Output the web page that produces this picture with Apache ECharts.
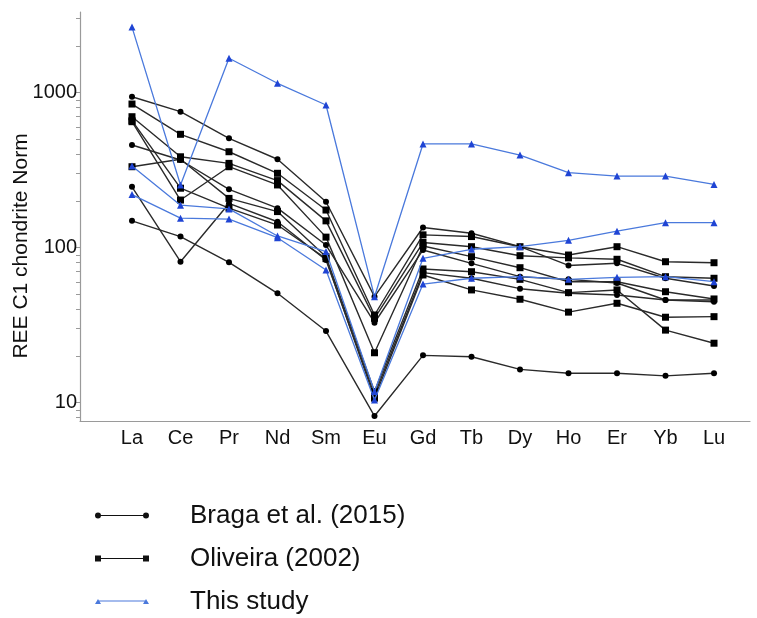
<!DOCTYPE html>
<html>
<head>
<meta charset="utf-8">
<script src="https://cdn.jsdelivr.net/npm/echarts@6/dist/echarts.min.js"></script>
<style>
  html, body { margin: 0; padding: 0; background: #ffffff; }
  #chart { width: 757px; height: 618px; }
</style>
</head>
<body>
<div id="chart"></div>
<script>
// REE elements along the x axis (Tm not analysed)
const elements = ['La', 'Ce', 'Pr', 'Nd', 'Sm', 'Eu', 'Gd', 'Tb', 'Dy', 'Ho', 'Er', 'Yb', 'Lu'];

// Chondrite-normalised patterns, one row per sample
const braga = [
  [942, 754, 508, 372, 198, 48.3, 135, 124, 101.5, 76.8, 79.3, 63.5, 56.6],
  [460, 368, 238, 180, 104, 32.8, 96.7, 79.3, 65, 62.5, 59.2, 46, 44.8],
  [247, 81.2, 193, 147, 83.3, 11.2, 69, 63.5, 54.4, 50.8, 49.5, 46, 46],
  [149, 118, 80.5, 50.8, 29, 8.2, 20.2, 19.8, 16.4, 15.5, 15.5, 14.9, 15.5]
];
const oliveira = [
  [845, 539, 416, 302, 175, 36.8, 121, 118, 101.5, 89.7, 101.5, 81.2, 80],
  [700, 386, 350, 271, 149, 35.0, 108, 101.5, 88.8, 86, 84.2, 65, 63.5],
  [650, 203, 333, 254, 117, 21.0, 102.6, 87.5, 74.3, 60.3, 60.3, 52, 46.7],
  [333, 372, 208, 171, 87.5, 11.8, 72.9, 70, 62.5, 51.3, 53.4, 29.4, 24.2],
  [660, 242, 180, 140, 85, 10.7, 66.7, 53.4, 46.5, 38.4, 43.8, 35.6, 35.9]
];
const thisStudy = [
  [2650, 254, 1667, 1150, 833, 48.3, 467, 467, 396, 305, 290, 290, 256],
  [337, 188, 178, 119, 94.5, 11.8, 85.4, 97.7, 101.5, 111.6, 127.8, 145, 145],
  [220, 155, 153, 116, 71.8, 10.4, 58.3, 63.5, 65, 62.5, 64.4, 65, 60.4]
];

// Axis ticks
const yLabelValues = [10, 100, 1000];
const yTickValues = [8, 9, 10, 20, 30, 40, 50, 60, 70, 80, 90, 100,
  200, 300, 400, 500, 600, 700, 800, 900, 1000, 2000, 3000];

const FONT = 'Liberation Sans, Arial, Helvetica, sans-serif';

const groups = [
  { name: 'Braga et al. (2015)', rows: braga, symbol: 'circle', size: 6,
    line: '#2a2a2a', mark: '#000000', width: 1.4,
    icon: 'path://M3,2.4L51,2.4L51,3.6L3,3.6Z M0,3A3,3,0,1,1,6,3A3,3,0,1,1,0,3Z M48,3A3,3,0,1,1,54,3A3,3,0,1,1,48,3Z' },
  { name: 'Oliveira (2002)', rows: oliveira, symbol: 'rect', size: 7,
    line: '#2a2a2a', mark: '#000000', width: 1.4,
    icon: 'path://M3,2.4L51,2.4L51,3.6L3,3.6Z M0,0L6,0L6,6L0,6Z M48,0L54,0L54,6L48,6Z' },
  { name: 'This study', rows: thisStudy, symbol: 'triangle', size: 7,
    line: '#4a79dc', mark: '#1f44d4', width: 1.3,
    icon: 'path://M3,2.5L51,2.5L51,3.5L3,3.5Z M0,6L3,1L6,6Z M48,6L51,1L54,6Z' }
];

const series = [];
groups.forEach(g => {
  g.rows.forEach(row => {
    series.push({
      type: 'line',
      name: g.name,
      data: row.map((v, i) => [i, v]),
      symbol: g.symbol,
      symbolSize: g.size,
      showSymbol: true,
      lineStyle: { color: g.line, width: g.width },
      itemStyle: { color: g.mark },
      emphasis: { disabled: true },
      z: g.name === 'This study' ? 3 : 2
    });
  });
});

const chart = echarts.init(document.getElementById('chart'), null, { renderer: 'canvas' });
chart.setOption({
  animation: false,
  backgroundColor: '#ffffff',
  grid: { left: 80, right: 7, top: 12, bottom: 197 },
  xAxis: {
    type: 'value',
    min: -1.072,
    max: 12.742,
    splitLine: { show: false },
    axisTick: { show: false },
    axisLine: { show: true, onZero: false, lineStyle: { color: '#9a9a9a', width: 1.2 } },
    axisLabel: {
      customValues: elements.map((e, i) => i),
      formatter: v => elements[Math.round(v)],
      fontFamily: FONT,
      fontSize: 20,
      color: '#111111',
      margin: 7
    }
  },
  yAxis: {
    type: 'log',
    logBase: 10,
    min: 7.62,
    max: 3316,
    splitLine: { show: false },
    axisLine: { show: true, onZero: false, lineStyle: { color: '#9a9a9a', width: 1.2 } },
    axisTick: { show: true, customValues: yTickValues, length: 4, lineStyle: { color: '#9a9a9a' } },
    axisLabel: {
      customValues: yLabelValues,
      formatter: v => String(Math.round(v)),
      fontFamily: FONT,
      fontSize: 20,
      color: '#111111',
      margin: 3
    }
  },
  legend: {
    orient: 'vertical',
    left: 95,
    top: 501,
    padding: 0,
    itemWidth: 54,
    itemHeight: 6,
    itemGap: 14,
    selectedMode: false,
    data: groups.map(g => ({ name: g.name, icon: g.icon, itemStyle: { color: g.name === 'This study' ? g.line : '#111111' } })),
    textStyle: {
      fontFamily: FONT,
      fontSize: 26,
      lineHeight: 29,
      color: '#111111',
      padding: [0, 0, 0, 36]
    }
  },
  graphic: [{
    type: 'text',
    x: 21,
    y: 246,
    rotation: Math.PI / 2,
    style: {
      text: 'REE C1 chondrite Norm',
      fontFamily: FONT,
      fontSize: 21,
      fill: '#111111',
      align: 'center',
      verticalAlign: 'middle'
    }
  }],
  series: series
});
</script>
</body>
</html>
